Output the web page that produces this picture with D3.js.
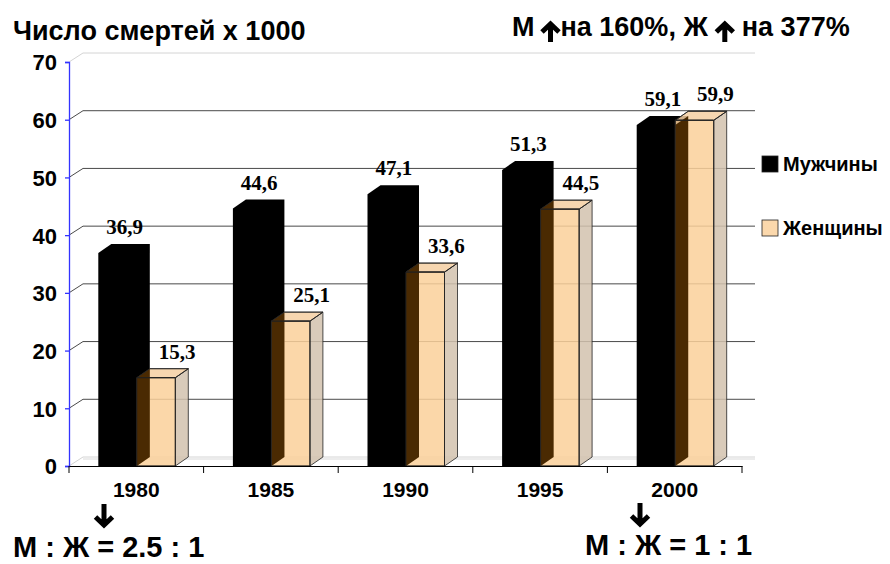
<html>
<head>
<meta charset="utf-8">
<script src="https://d3js.org/d3.v7.min.js"></script>
<style>
  body { margin: 0; background: #fff; }
  text { font-family: "Liberation Sans", Arial, sans-serif; font-weight: bold; fill: #000; }
  .val { font-family: "Liberation Serif", "Times New Roman", serif; font-size: 21px; }
</style>
</head>
<body>
<svg id="chart" width="890" height="564"></svg>
<script>
// data
const years = ['1980', '1985', '1990', '1995', '2000'];
const men = [36.9, 44.6, 47.1, 51.3, 59.1];
const women = [15.3, 25.1, 33.6, 44.5, 59.9];
const yTicks = [0, 10, 20, 30, 40, 50, 60, 70];
const seriesNames = ['Мужчины', 'Женщины'];
const title = 'Число смертей х 1000';
const ratioLeft = 'М : Ж = 2.5 : 1';
const ratioRight = 'М : Ж = 1 : 1';

const svg = d3.select('svg#chart');

const x = d3.scaleBand().domain(years).range([69, 742]).padding(0);
const y = d3.scaleLinear().domain([0, 70]).range([466, 62]);

// 3d depth offset
const dx = 13, dy = 9;
const bw = 38.5;
const y0 = y(0);
const fmt = v => d3.format('.1f')(v).replace('.', ',');

const peachFront = '#FAD09A', peachTop = '#F4CFA2', peachSide = '#D2C2AE', brown = '#4A2A02';

// back wall gridlines
const grid = svg.append('g');
yTicks.forEach(t => {
  const light = (t === 0 || t === 70);
  const col = light ? '#d4d4d4' : '#4a4a4a';
  grid.append('line')
    .attr('x1', 69).attr('y1', y(t)).attr('x2', 69 + dx + 1).attr('y2', y(t) - dy)
    .attr('stroke', col).attr('stroke-width', 1);
  grid.append('line')
    .attr('x1', 69 + dx + 1).attr('y1', y(t) - dy).attr('x2', 755).attr('y2', y(t) - dy)
    .attr('stroke', col).attr('stroke-width', 1);
});
// floor
grid.append('line').attr('x1', 83).attr('x2', 755).attr('y1', y0 - dy + 2).attr('y2', y0 - dy + 2)
  .attr('stroke', '#e6e6e6').attr('stroke-width', 1.5);

const poly = pts => 'M' + pts.map(p => p.join(',')).join('L') + 'Z';

const bars = svg.append('g');
const defs = svg.append('defs');

years.forEach((yr, i) => {
  const c = x(yr) + x.bandwidth() / 2;
  const xm = c - 38;
  const xf = c + 0.5;
  const ym = y(men[i]);
  const yf = y(women[i]);

  // male bar (solid black)
  bars.append('path').attr('d', poly([[xm, ym], [xm + dx, ym - dy], [xm + bw + dx, ym - dy], [xm + bw + dx, y0 - dy], [xm + bw, y0], [xm, y0]]))
    .attr('fill', '#000');

  // female bar, translucent
  const front = [[xf, yf], [xf + bw, yf], [xf + bw, y0], [xf, y0]];
  const top = [[xf, yf], [xf + dx, yf - dy], [xf + bw + dx, yf - dy], [xf + bw, yf]];
  const side = [[xf + bw, yf], [xf + bw + dx, yf - dy], [xf + bw + dx, y0 - dy], [xf + bw, y0]];
  const g = bars.append('g').attr('stroke', '#222').attr('stroke-width', 0.8).attr('stroke-linejoin', 'round');
  g.append('path').attr('d', poly(side)).attr('fill', peachSide).attr('fill-opacity', 0.85);
  g.append('path').attr('d', poly(top)).attr('fill', peachTop).attr('fill-opacity', 0.85);
  g.append('path').attr('d', poly(front)).attr('fill', peachFront).attr('fill-opacity', 0.85);

  // male side face seen through the female bar
  const cid = 'clip' + i;
  defs.append('clipPath').attr('id', cid).append('path').attr('d', poly(front) + poly(top));
  bars.append('path')
    .attr('clip-path', `url(#${cid})`)
    .attr('d', poly([[xm + bw, ym], [xm + bw + dx, ym - dy], [xm + bw + dx, y0 - dy], [xm + bw, y0]]))
    .attr('fill', brown);
  // outline again on top
  bars.append('path').attr('d', poly(front) + poly(top)).attr('fill', 'none')
    .attr('stroke', '#222').attr('stroke-width', 0.8);

  // value labels
  svg.append('text').attr('class', 'val').attr('text-anchor', 'middle')
    .attr('x', xm + bw / 2 + 7).attr('y', ym - 19).text(fmt(men[i]));
  svg.append('text').attr('class', 'val').attr('text-anchor', 'middle')
    .attr('x', xf + bw / 2 + 21).attr('y', yf - 19).text(fmt(women[i]));
});

// y axis
const yAxis = svg.append('g').attr('transform', 'translate(69,0)')
  .call(d3.axisLeft(y).tickValues(yTicks).tickSize(4).tickPadding(8).tickFormat(d3.format('d')));
yAxis.select('.domain').attr('stroke', '#3333ff').attr('stroke-width', 1.3);
yAxis.selectAll('.tick line').attr('stroke', '#3333ff').attr('stroke-width', 1.3);
yAxis.selectAll('.tick text').style('font-size', '22px').attr('dy', '0.36em');

// x axis
const xAxis = svg.append('g').attr('transform', `translate(0,${y0})`)
  .call(d3.axisBottom(x).tickSize(0).tickPadding(16));
xAxis.select('.domain').attr('stroke', '#000').attr('stroke-width', 1);
xAxis.selectAll('.tick text').style('font-size', '21px');
const bounds = years.map(d => x(d)).concat([x(years[years.length - 1]) + x.bandwidth()]);
bounds.forEach(b => {
  xAxis.append('line').attr('x1', b).attr('x2', b).attr('y1', 0).attr('y2', 7)
    .attr('stroke', '#000').attr('stroke-width', 1);
});

// legend
const legendY = [164, 228];
seriesNames.forEach((n, i) => {
  svg.append('rect').attr('x', 762).attr('y', legendY[i] - 8).attr('width', 16).attr('height', 16)
    .attr('fill', i === 0 ? '#000' : '#FBD8AC').attr('stroke', '#222').attr('stroke-width', 0.8);
  svg.append('text').attr('x', 783).attr('y', legendY[i] + 7).style('font-size', '20px').text(n);
});

// title
svg.append('text').attr('x', 13).attr('y', 40).style('font-size', '27px').text(title);

// arrows
function arrow(cx, top, bottom, up) {
  const h = 9;
  const tip = up ? top : bottom;
  const base = up ? top + h : bottom - h;
  svg.append('path')
    .attr('d', `M${cx},${up ? bottom : top}L${cx},${tip + (up ? 2 : -2)}M${cx - 8.5},${base}L${cx},${tip + (up ? 1 : -1)}L${cx + 8.5},${base}`)
    .attr('fill', 'none').attr('stroke', '#000').attr('stroke-width', 5).attr('stroke-linejoin', 'miter');
}

// top-right note
const noteParts = ['М', 'на 160%, Ж', 'на 377%'];
let cur = 512;
noteParts.forEach((p, i) => {
  const t = svg.append('text').attr('x', cur).attr('y', 36).style('font-size', '27px').text(p);
  cur += t.node().getComputedTextLength();
  if (i < noteParts.length - 1) {
    const gap = i === 0 ? 7 : 8;
    arrow(cur + gap + 9, 23, 42, true);
    cur += gap + 18 + (i === 0 ? 1 : 8);
  }
});

// bottom ratios
arrow(104, 504, 526, false);
arrow(640, 503, 525, false);
svg.append('text').attr('x', 13).attr('y', 557).style('font-size', '29px').text(ratioLeft);
svg.append('text').attr('x', 585).attr('y', 555).style('font-size', '29px').text(ratioRight);
</script>
</body>
</html>
